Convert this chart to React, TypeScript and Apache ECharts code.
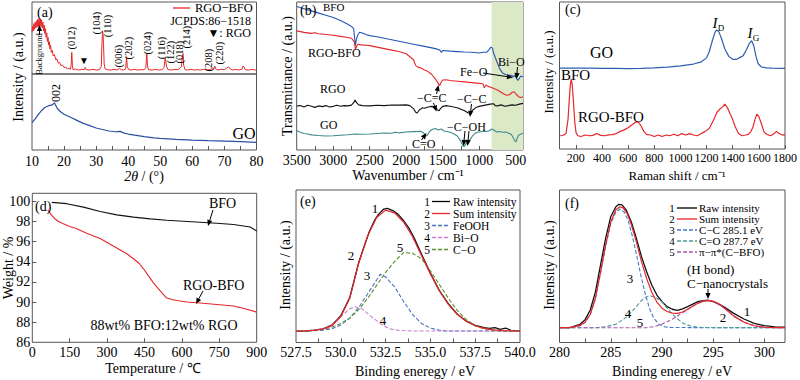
import React, { useEffect, useRef } from 'react';
import * as echarts from 'echarts';

const FONT = 'Liberation Serif, Times New Roman, serif';
const RED = '#e5262b';

// (a) XRD
const xrdLabels = [10, 20, 30, 40, 50, 60, 70, 80];
const xrdTickVals = [15, 20, 25, 30, 35, 40, 45, 50, 55, 60, 65, 70, 75];
const xrdRgoBfo = [[10,58],[10.2,66],[10.4,60],[10.6,70],[10.8,62],[11,72],[11.2,64],[11.4,74],[11.6,65],[11.8,76],[12,66],[12.2,77],[12.4,67],[12.6,76],[12.8,66],[13,75],[13.2,64],[13.4,72],[13.6,60],[13.8,68],[14,56],[14.2,63],[14.4,51],[14.6,57],[14.8,45],[15,51],[15.2,40],[15.4,45],[15.6,35],[15.8,40],[16,30],[16.3,33],[16.6,25],[17,27],[17.4,20],[17.8,21],[18.2,15],[18.6,16],[19,12],[19.5,12.5],[20,9],[20.5,10],[21,7],[21.5,8],[22,6.5],[22.2,12],[22.4,30],[22.6,12],[22.8,6],[23.5,7],[24.5,5.5],[25.5,6.5],[26.3,6],[26.6,9],[26.9,6],[28,5.5],[29,6.5],[30,5.5],[31,6],[31.6,10],[31.8,40],[32,60],[32.15,55],[32.3,42],[32.5,14],[32.8,7],[33.5,6],[34.5,5.5],[35.5,6.5],[36.5,5.5],[37.3,8],[37.8,6],[38.5,5.5],[39.2,7],[39.5,24],[39.7,10],[40.2,6],[41,5.5],[42,6.5],[43,5.5],[44,6],[45,6],[45.5,9],[45.8,29],[46,12],[46.3,6],[47.5,5.5],[48.5,6.5],[49.5,5.5],[50.5,6],[51.2,9],[51.5,22],[51.7,18],[52,10],[52.4,6],[53.5,5.5],[54.5,6.5],[55.5,6],[56.3,9],[56.6,10],[56.9,25],[57.1,28],[57.3,12],[57.7,6],[58.5,5.5],[59.5,6.5],[60.5,5.5],[61.5,6],[62.5,5.5],[63.5,6.5],[64.5,5.5],[65.5,6],[66.3,8],[66.6,7],[67,11],[67.3,7],[68,5.5],[69,6.5],[70,6],[70.7,8],[71.3,10],[71.8,7],[72.5,5.5],[73.5,6.5],[74.5,5.5],[75.5,7],[75.8,11],[76.1,10],[76.5,6],[77.5,5.5],[78.5,6.5],[79.5,5.5],[80,6]];
const xrdGo = [[10,36],[11,41],[12,47],[13,52],[14,56],[15,58],[16,59],[16.5,60],[17,62],[17.5,58],[18,54],[19,50],[20,47],[22,43],[24,39],[26,35],[28,32],[30,29],[32,27],[34,25],[36,24],[37.5,24.5],[38.5,22.5],[40,21],[42,19.5],[45,17.5],[48,16],[50,15.3],[55,14],[60,13],[65,12.3],[70,11.8],[75,11],[80,10]];
const hklLabels = ['(012)','(104)','(110)','(006)','(202)','(024)','(116)','(122)','(018)','(214)','(208)','(220)'];

// (b) FTIR
const ftirLabels = [3500, 3000, 2500, 2000, 1500, 1000, 500];
const ftirTickVals = [3250,3000,2750,2500,2250,2000,1750,1500,1250,1000,750,500];
const ftirBfo = [[3500,97],[3400,95.5],[3300,94],[3200,92.5],[3100,91],[3000,89.5],[2900,87.5],[2800,85],[2750,83.5],[2720,82],[2705,75],[2695,70.5],[2685,74],[2670,77],[2640,79.5],[2600,79],[2550,78],[2500,77.3],[2400,76.5],[2300,75.5],[2200,74.5],[2100,73.5],[2000,72.5],[1900,71.5],[1800,70.5],[1700,69.5],[1600,68.5],[1540,67.5],[1520,66],[1500,67.2],[1400,66.8],[1300,66.5],[1200,66.2],[1100,66],[1000,65.5],[950,66],[900,66],[870,67.5],[840,69.5],[820,69],[800,65],[760,60],[720,55],[680,52],[640,51],[600,50.5],[560,50.5],[530,49.5],[510,50.5],[490,48.5],[470,47],[450,48.5],[430,50],[400,49.5]];
const ftirRgoBfo = [[3500,80.5],[3400,79.5],[3300,78.8],[3250,79.2],[3200,78.5],[3100,78],[3000,77.5],[2900,76.8],[2800,76],[2750,75.5],[2710,73],[2695,68],[2680,70],[2660,71.5],[2620,71],[2550,70.8],[2500,70.5],[2400,69.5],[2300,68.5],[2200,67.5],[2100,66.5],[2000,65],[1950,63],[1900,61],[1870,57],[1840,56],[1800,55.5],[1750,54],[1700,53],[1650,51],[1600,48],[1560,45],[1540,43.5],[1520,46],[1500,47.3],[1450,47.5],[1400,47],[1300,46.5],[1200,46],[1100,45.5],[1000,45],[950,44.8],[930,42],[910,44],[880,43],[850,42.5],[800,41.5],[750,40.5],[700,39],[650,37.5],[620,37],[580,37.5],[550,39],[520,39.2],[490,37.5],[460,36],[430,35.5],[400,36]];
const ftirRgo = [[3500,29.7],[3450,30],[3400,29],[3350,30.2],[3300,29.5],[3250,28.8],[3200,29.8],[3150,29.3],[3100,30],[3050,29],[3000,29.5],[2950,30.2],[2900,29.6],[2850,30],[2800,29.8],[2750,30.3],[2720,32],[2700,33.8],[2680,32],[2650,30.5],[2600,30],[2500,29.8],[2400,30.2],[2300,30],[2200,30.4],[2100,30.3],[2000,30.5],[1950,30],[1900,28],[1870,25.5],[1850,25],[1820,27],[1780,28.5],[1750,28.2],[1700,29],[1650,29.5],[1600,29],[1570,27],[1550,26.5],[1530,28],[1500,29.5],[1450,30],[1400,29.6],[1350,29],[1300,28.5],[1250,27.5],[1200,26.5],[1150,25],[1120,24.8],[1100,26.5],[1050,28.5],[1000,29.5],[950,30],[900,30.5],[850,31],[800,31.2],[780,30],[750,29.8],[700,30.5],[650,29.6],[600,30],[550,30.5],[500,30.2],[450,31],[400,31.5]];
const ftirGo = [[3500,13],[3450,12],[3400,11.2],[3350,10.8],[3300,10.2],[3250,10],[3200,9.8],[3100,9.5],[3000,9.6],[2900,10],[2800,10.3],[2700,10.8],[2600,10.6],[2500,10.8],[2400,11.2],[2300,11.5],[2200,11.3],[2150,12],[2100,11.6],[2000,12.2],[1900,12.4],[1800,12.6],[1760,11.5],[1730,9.5],[1710,10],[1680,12.5],[1640,14],[1600,14.5],[1560,13.5],[1520,14.2],[1480,12.8],[1440,12.5],[1400,12],[1350,11],[1300,9.5],[1260,6.5],[1230,3.5],[1210,2.2],[1190,3.5],[1170,5],[1150,4.5],[1130,6.5],[1100,9],[1070,10.5],[1040,11.8],[1000,12.2],[950,12.5],[900,12.5],[860,13],[830,14.2],[800,13.5],[760,12.2],[720,12.5],[680,12],[640,12.2],[600,11.5],[560,10.5],[530,8],[510,6],[495,5.5],[480,8],[460,10],[440,10.5],[420,11],[400,11.3]];
const ftirBand = [830, 400];

// (c) Raman
const ramanLabels = [200, 400, 600, 800, 1000, 1200, 1400, 1600, 1800];
const ramanGo = [[75,55],[200,55],[300,55],[400,54.8],[500,54.8],[600,54.7],[700,54.9],[800,55.2],[900,55.7],[1000,56.5],[1100,57.8],[1160,59.3],[1200,62],[1220,66],[1245,74],[1265,79.5],[1278,81],[1295,79.5],[1315,75],[1340,68],[1370,63],[1400,61],[1430,61],[1460,62.5],[1480,63.5],[1505,67.5],[1525,71.5],[1545,73.7],[1562,70],[1578,63],[1595,58],[1620,55.8],[1660,55.2],[1700,55],[1800,54.8]];
const ramanRgoBfo = [[75,9],[100,9.2],[125,10.5],[140,20],[150,34],[158,44],[165,47.5],[172,44],[182,32],[192,18],[202,11],[215,9],[240,8.5],[270,9.5],[300,9],[330,9.3],[360,10.5],[390,9.3],[420,9],[450,9.6],[480,9.8],[510,10.5],[540,12],[570,13],[600,14.5],[630,16.5],[660,18.5],[680,18.2],[700,15.5],[720,12],[740,10],[770,9.5],[800,8.5],[830,9.5],[860,8.5],[890,9.5],[920,9],[950,10],[980,9],[1010,10.5],[1040,9.5],[1070,10.5],[1100,9.5],[1130,9],[1160,10.5],[1190,12],[1220,14],[1250,19],[1280,25],[1300,27],[1320,28.5],[1340,30.5],[1360,28],[1380,24],[1400,20],[1420,15],[1445,10.5],[1470,9],[1500,9.5],[1520,10],[1540,12],[1555,15],[1570,20],[1585,23.8],[1600,22],[1620,17],[1640,11.5],[1660,10],[1690,9],[1710,10],[1735,12],[1755,10.5],[1780,9.5],[1800,9.8]];

// (d) TGA
const tgaXLabels = [0, 150, 300, 450, 600, 750, 900];
const tgaYLabels = [86, 88, 90, 92, 94, 96, 98, 100];
const tgaBfo = [[78,99.9],[138,99.77],[205,99.43],[272,99.0],[339,98.66],[406,98.43],[473,98.26],[539,98.13],[606,98.03],[673,97.93],[740,97.83],[807,97.7],[874,97.45],[900,97.05]];
const tgaRgoBfo = [[62,99.15],[75,98.7],[89,98.3],[105,98.0],[122,97.8],[150,97.5],[176,97.3],[220,96.8],[272,96.3],[330,95.5],[379,94.8],[406,94.3],[430,93.8],[446,93.3],[466,92.6],[486,91.9],[513,91.1],[539,90.4],[560,90.25],[580,90.15],[620,90.0],[673,89.9],[740,89.75],[807,89.6],[850,89.35],[900,89.0]];

// (e) XPS O 1s
const o1sLabels = [527.5, 530, 532.5, 535, 537.5, 540];
const o1sTickVals = [528.75, 530, 531.25, 532.5, 533.75, 535, 536.25, 537.5, 538.75];
const o1sRaw = [[527.5,7.5],[528,7.5],[528.5,8.1],[529,8.9],[529.5,11.3],[530,17.5],[530.5,29.5],[531,52.5],[531.3,63],[531.6,73],[531.9,80.5],[532.1,84],[532.4,87.5],[532.6,88],[532.9,86.5],[533.2,84],[533.5,80],[533.8,75],[534.1,68.5],[534.5,58],[535,45.5],[535.5,34],[536,25.5],[536.5,18.5],[537,14],[537.5,11.2],[538,9.8],[538.3,9.2],[538.6,9.8],[538.9,8.6],[539.2,9.4],[539.5,8],[540,7.6]];
const o1sSum = [[527.5,7.5],[528,7.6],[528.5,8],[529,8.8],[529.5,11],[530,17],[530.5,29],[531,52],[531.5,70],[532,82],[532.5,86.8],[533,85],[533.5,79],[534,69.5],[534.5,57],[535,45],[535.5,34],[536,25],[536.5,18.5],[537,14],[537.5,11],[538,9.3],[538.5,8.3],[539,7.8],[539.5,7.6],[540,7.5]];
const o1sFeOOH = [[527.5,7.5],[528,7.5],[529,8],[529.5,9],[530,11.5],[530.5,16],[531,23],[531.5,32],[532,41],[532.2,44.7],[532.5,43],[533,36.5],[533.5,27],[534,18.5],[534.5,12.5],[535,9.5],[535.5,8],[536,7.5],[540,7.5]];
const o1sBiO = [[527.5,7.5],[528.5,8],[529,9],[529.5,12],[530,17],[530.5,22],[530.8,23.5],[531.2,22],[531.7,17],[532.2,12.5],[532.7,9],[533.2,8],[534,7.5],[540,7.5]];
const o1sCO = [[527.5,7.5],[528,7.5],[529,8.5],[529.5,10],[530,12.5],[530.5,16],[531,21.5],[531.5,29],[532,37.5],[532.5,46],[533,53],[533.5,59],[534,58.5],[534.5,55],[535,47],[535.5,38],[536,29],[536.5,21],[537,15],[537.5,11],[538,9],[539,7.5],[540,7.5]];
const o1sNames = ['Raw intensity', 'Sum intensity', 'FeOOH', 'Bi\u2212O', 'C\u2212O'];

// (f) XPS C 1s
const c1sLabels = [280, 285, 290, 295, 300];
const c1sTickVals = [282.5, 285, 287.5, 290, 292.5, 295, 297.5, 300];
const c1sRaw = [[280,9.7],[281,9.8],[282,11.9],[282.5,15],[283,21.3],[283.5,33],[284,50.8],[284.5,68.3],[285,82.5],[285.5,89],[285.8,90.6],[286.1,90.2],[286.5,87],[287,79.2],[287.5,68.3],[288,56.3],[288.5,46.4],[289,37.7],[289.5,31.1],[290,26.8],[290.5,23.5],[291,21.8],[291.5,21.1],[292,22],[292.5,23.5],[293,25.2],[293.5,26.8],[294,27.4],[294.5,27.7],[295,26.8],[295.5,25.3],[296,23.5],[297,19.1],[298,15.4],[299,12.6],[300,11],[301,10.3],[302,10]];
const c1sSum = [[280,9.7],[281,9.7],[282,11.2],[282.5,13.5],[283,18.5],[283.5,29],[284,46],[284.5,64],[285,79],[285.5,87],[285.9,89],[286.2,88.3],[286.6,84.5],[287,77.5],[287.5,66],[288,53],[288.5,42],[289,33],[289.5,26.5],[290,22.5],[290.5,20.3],[291,19.3],[291.5,19.1],[292,20],[292.5,21.8],[293,23.8],[293.5,25.7],[294,27],[294.5,27.6],[295,27],[295.5,25.5],[296,23],[297,17.3],[298,13.3],[299,11],[300,10],[301,9.8],[302,9.7]];
const c1sCC = [[280,9.7],[281,9.7],[282,11],[282.5,13.2],[283,18.3],[283.5,28.5],[284,45.5],[284.5,63],[285,78],[285.5,85.5],[285.9,87.5],[286.3,85.5],[286.7,80],[287.1,70],[287.5,58],[288,42],[288.4,31],[288.8,22],[289.2,16],[289.7,12],[290.3,10.2],[291,9.8],[302,9.7]];
const c1sCO = [[280,9.7],[283.5,9.7],[284.5,10.3],[285.5,12],[286.5,16.5],[287.3,22],[288,27.5],[288.5,30],[288.9,30.5],[289.4,29.5],[290,26.5],[290.7,21],[291.4,16],[292.1,12.5],[292.9,10.5],[294,9.8],[302,9.7]];
const c1sPi = [[280,9.7],[288.5,9.7],[289.3,10.5],[290,12],[291,15.3],[292,19.5],[293,24],[294,27.2],[294.5,27.6],[295,27],[296,23.2],[297,17.5],[298,13.3],[299,11],[300,10],[301,9.8],[302,9.7]];
const c1sNames = ['Raw intensity', 'Sum intensity', 'C\u2212C 285.1 eV', 'C=O 287.7 eV', '\u03c0\u2212\u03c0*(C\u2212BFO)'];

function T(text: string, x: number, y: number, o: any = {}) {
  return {
    type: 'text', x, y, silent: true, z: 100,
    rotation: o.rot ? Math.PI / 2 : 0,
    style: {
      text, fontFamily: FONT, fontSize: o.size ?? 13, fill: o.color ?? '#000',
      align: o.align ?? (o.rot ? 'center' : 'left'), verticalAlign: 'middle',
      fontStyle: o.italic ? 'italic' : 'normal', rich: o.rich,
    },
  };
}

function arrow(x1: number, y1: number, x2: number, y2: number) {
  const a = Math.atan2(y2 - y1, x2 - x1);
  const L = 6, W = 2.6;
  const bx = x2 - L * Math.cos(a), by = y2 - L * Math.sin(a);
  const px = -Math.sin(a) * W, py = Math.cos(a) * W;
  return [
    { type: 'line', silent: true, z: 100, shape: { x1, y1, x2: bx, y2: by }, style: { stroke: '#000', lineWidth: 1 } },
    { type: 'polygon', silent: true, z: 100, shape: { points: [[x2, y2], [bx + px, by + py], [bx - px, by - py]] }, style: { fill: '#000' } },
  ];
}

function seg(x1: number, y1: number, x2: number, y2: number, color: string, dashed = false) {
  return { type: 'line', silent: true, z: 100, shape: { x1, y1, x2, y2 }, style: { stroke: color, lineWidth: 1.3, lineDash: dashed ? [4, 2] : null } };
}

const grids = [
  { left: 32, top: 2, width: 224.5, height: 72 },
  { left: 32, top: 74, width: 224.5, height: 76 },
  { left: 296.7, top: 2, width: 226.3, height: 148 },
  { left: 559.5, top: 2, width: 225.5, height: 147 },
  { left: 32.3, top: 193.3, width: 224.4, height: 149 },
  { left: 296, top: 190, width: 224, height: 152.5 },
  { left: 559.5, top: 190, width: 225.5, height: 152.5 },
].map((g) => ({ ...g, show: true, borderColor: '#555', borderWidth: 1, backgroundColor: 'transparent', containLabel: false, outerBoundsMode: 'none' }));

const plain = (v: number) => String(v);

function xAxis(gi: number, min: number, max: number, labels: number[] | null, ticks: number[] | null, extra: any = {}) {
  return {
    type: 'value', gridIndex: gi, min, max, inverse: extra.inverse ?? false,
    axisLine: { show: false }, splitLine: { show: false },
    axisTick: ticks ? { show: true, inside: true, length: 4, lineStyle: { color: '#555' }, customValues: ticks } : { show: false },
    axisLabel: labels ? { show: true, customValues: labels, fontFamily: FONT, fontSize: extra.size ?? 14, color: '#000', margin: extra.margin ?? 3, formatter: extra.fmt ?? plain, hideOverlap: false } : { show: false },
  };
}
function yAxis(gi: number, min: number, max: number, labels: number[] | null = null, ticks: number[] | null = null) {
  return {
    type: 'value', gridIndex: gi, min, max,
    axisLine: { show: false }, splitLine: { show: false },
    axisTick: ticks ? { show: true, inside: true, length: 4, lineStyle: { color: '#555' }, customValues: ticks } : { show: false },
    axisLabel: labels ? { show: true, customValues: labels, fontFamily: FONT, fontSize: 14, color: '#000', margin: 2, formatter: plain } : { show: false },
  };
}

function line(data: number[][], idx: number, color: string, dashed = false, width = 1.1, extra: any = {}) {
  return {
    type: 'line', data, xAxisIndex: idx, yAxisIndex: idx, symbol: 'none', showSymbol: false, silent: true,
    lineStyle: { color, width, type: dashed ? [4, 2] : 'solid' }, z: extra.z ?? 2, ...extra.opts,
  };
}

const hklPos = [[71.7,38],[96.5,23],[107.5,26],[118,56],[128,48],[147,43],[161,48],[170,52],[179,52],[186,37],[208.5,60],[219,53]];
const eLegendY = [201.5, 213.5, 225.5, 237.5, 249.5];
const eLegendC = ['#000', RED, '#4a72c4', '#c97fc9', '#5b8f2c'];
const fLegendY = [208, 219, 230, 241, 252];
const fLegendC = ['#000', RED, '#4a78c8', '#4d9a9a', '#a75bb0'];

const graphics: any[] = [
  // (a)
  T('(a)', 37, 12, { size: 14 }),
  seg(173, 8, 190, 8, RED),
  T('RGO\u2212BFO', 195, 8, { size: 12.5 }),
  T('JCPDS:86\u22121518', 251, 20.5, { size: 12 }),
  T('\u25bc: RGO', 251, 33, { size: 12 }),
  ...hklLabels.map((s, i) => T(s, hklPos[i][0], hklPos[i][1], { size: 10.5, rot: true })),
  T('Background', 39, 54, { size: 8.5, rot: true }),
  ...arrow(39.5, 35, 39.5, 25),
  T('\u25bc', 84, 60, { size: 10, align: 'center' }),
  T('002', 55.5, 93, { size: 12, rot: true }),
  T('GO', 244, 133, { size: 16, align: 'center' }),
  T('Intensity / (a.u.)', 18, 77, { size: 14, rot: true }),
  T('{i|2\u03b8} / (\u00b0)', 144, 176, { size: 14, align: 'center', rich: { i: { fontStyle: 'italic', fontFamily: FONT, fontSize: 14 } } }),
  // (b)
  T('(b)', 300, 10, { size: 14 }),
  T('BFO', 323, 7, { size: 11 }),
  T('RGO-BFO', 308, 53, { size: 12 }),
  T('RGO', 320, 89, { size: 12 }),
  T('GO', 320, 125, { size: 12 }),
  T('Fe\u2212O', 460, 72, { size: 12 }),
  ...arrow(483, 73, 513, 77.5),
  T('Bi\u2212O', 498, 62, { size: 12 }),
  ...arrow(517.5, 67, 516.5, 79),
  T('\u2212C=C', 417, 98, { size: 12 }),
  ...arrow(436.5, 94, 438.5, 85),
  ...arrow(433.5, 103, 436.5, 111.5),
  T('\u2212C\u2212C', 457, 99, { size: 12 }),
  ...arrow(471.5, 104, 470, 117),
  T('\u2212C\u2212OH', 447, 127, { size: 12 }),
  ...arrow(465, 131, 463.5, 146),
  ...arrow(469, 131, 467.5, 146),
  T('C=O', 412, 144, { size: 12 }),
  ...arrow(421.5, 140, 426.5, 133),
  T('Transmittance / (a.u.)', 287, 76, { size: 14, rot: true }),
  T('Wavenumber / cm\u207b\u00b9', 408, 175, { size: 14, align: 'center' }),
  // (c)
  T('(c)', 565, 9, { size: 14 }),
  T('GO', 590, 52, { size: 16 }),
  T('I', 715, 23, { size: 15, italic: true, align: 'center' }),
  T('D', 721, 27.5, { size: 9, align: 'center' }),
  T('I', 750, 33, { size: 15, italic: true, align: 'center' }),
  T('G', 756, 37.5, { size: 9, align: 'center' }),
  T('BFO', 561, 75, { size: 15 }),
  T('RGO-BFO', 578, 117, { size: 15 }),
  T('Intensity / (a.u.)', 548, 72, { size: 13, rot: true }),
  T('Raman shift / cm\u207b\u00b9', 677, 175, { size: 13, align: 'center' }),
  // (d)
  T('(d)', 35, 206, { size: 14 }),
  T('BFO', 209, 203, { size: 14 }),
  ...arrow(213, 210, 208, 226),
  T('RGO-BFO', 183, 285, { size: 14 }),
  ...arrow(203, 291, 196, 304),
  T('88wt% BFO:12wt% RGO', 164, 325, { size: 14, align: 'center' }),
  T('Weight / %', 8, 268, { size: 14, rot: true }),
  T('Temperature / \u2103', 153, 368, { size: 14, align: 'center' }),
  // (e)
  T('(e)', 300, 201, { size: 14 }),
  T('1', 375, 208, { size: 13, align: 'center' }),
  T('2', 351, 255, { size: 13, align: 'center' }),
  T('3', 367, 275, { size: 13, align: 'center' }),
  T('4', 383, 320, { size: 13, align: 'center' }),
  T('5', 400, 247, { size: 13, align: 'center' }),
  ...o1sNames.flatMap((n, i) => [
    T(String(i + 1), 427, eLegendY[i], { size: 11.5, align: 'center' }),
    seg(432, eLegendY[i], 450, eLegendY[i], eLegendC[i], i >= 2),
    T(n, 453, eLegendY[i], { size: 11.5 }),
  ]),
  T('Intensity / (a.u.)', 285, 265, { size: 14, rot: true }),
  T('Binding eneregy / eV', 415, 371, { size: 14, align: 'center' }),
  // (f)
  T('(f)', 565, 203, { size: 14 }),
  T('3', 630, 278, { size: 13, align: 'center' }),
  T('4', 628, 313, { size: 13, align: 'center' }),
  T('5', 640, 322, { size: 13, align: 'center' }),
  T('2', 723, 317, { size: 13, align: 'center' }),
  T('1', 747, 311, { size: 13, align: 'center' }),
  ...c1sNames.flatMap((n, i) => [
    T(String(i + 1), 672, fLegendY[i], { size: 11, align: 'center' }),
    seg(677, fLegendY[i], 697, fLegendY[i], fLegendC[i], i >= 2),
    T(n, 699, fLegendY[i], { size: 11 }),
  ]),
  T('(H bond)', 687, 269.5, { size: 13 }),
  T('C\u2212nanocrystals', 687, 283.5, { size: 13 }),
  ...arrow(708, 289, 708, 299),
  T('Intensity / (a.u.)', 549, 265, { size: 14, rot: true }),
  T('Binding eneregy / eV', 672, 371, { size: 14, align: 'center' }),
];

// fix alignment for right-aligned legend lines in (a)
graphics[3].style.align = 'right';
graphics[4].style.align = 'right';

const option: any = {
  animation: false,
  backgroundColor: '#fff',
  textStyle: { fontFamily: FONT },
  grid: grids,
  xAxis: [
    xAxis(0, 10, 80, null, null),
    xAxis(1, 10, 80, xrdLabels, xrdTickVals, { margin: 4 }),
    xAxis(2, 400, 3500, ftirLabels, ftirTickVals, { inverse: true }),
    xAxis(3, 75, 1800, ramanLabels, ramanLabels, { size: 12 }),
    xAxis(4, 0, 900, tgaXLabels, [150, 300, 450, 600, 750]),
    xAxis(5, 527.5, 540, o1sLabels, o1sTickVals, { fmt: (v: number) => v.toFixed(1) }),
    xAxis(6, 280, 302, c1sLabels, c1sTickVals),
  ],
  yAxis: [
    yAxis(0, 0, 100),
    yAxis(1, 0, 100),
    yAxis(2, 0, 100),
    yAxis(3, 0, 100),
    yAxis(4, 86, 100.8, tgaYLabels, [88, 90, 92, 94, 96, 98, 100]),
    yAxis(5, 0, 100),
    yAxis(6, 0, 100),
  ],
  series: [
    line(xrdRgoBfo, 0, RED, false, 1),
    line(xrdGo, 1, '#2b50a0', false, 1.2),
    line(ftirBfo, 2, '#2457b5', false, 1.1, {
      opts: { markArea: { silent: true, itemStyle: { color: '#dce9c6' }, data: [[{ xAxis: ftirBand[0] }, { xAxis: ftirBand[1] }]] } },
    }),
    line(ftirRgoBfo, 2, RED),
    line(ftirRgo, 2, '#111'),
    line(ftirGo, 2, '#3e8b8e'),
    line(ramanGo, 3, '#2f5fb0', false, 1.2),
    line(ramanRgoBfo, 3, RED, false, 1.2),
    line(tgaBfo, 4, '#111', false, 1.1),
    line(tgaRgoBfo, 4, RED, false, 1.1),
    line(o1sRaw, 5, '#111', false, 1.3),
    line(o1sSum, 5, RED, false, 1.2, { z: 3 }),
    line(o1sFeOOH, 5, '#4a72c4', true),
    line(o1sBiO, 5, '#c97fc9', true),
    line(o1sCO, 5, '#5b8f2c', true),
    line(c1sRaw, 6, '#111', false, 1.3),
    line(c1sSum, 6, RED, false, 1.2, { z: 3 }),
    line(c1sCC, 6, '#4a78c8', true),
    line(c1sCO, 6, '#4d9a9a', true),
    line(c1sPi, 6, '#a75bb0', true),
  ],
  graphic: graphics,
};

export default function App() {
  const ref = useRef<HTMLDivElement>(null);
  useEffect(() => {
    const chart = echarts.init(ref.current as HTMLDivElement, null, { renderer: 'svg' });
    chart.setOption(option);
    return () => chart.dispose();
  }, []);
  return <div ref={ref} style={{ position: 'fixed', left: 0, top: 0, width: 800, height: 380, background: '#fff' }} />;
}
